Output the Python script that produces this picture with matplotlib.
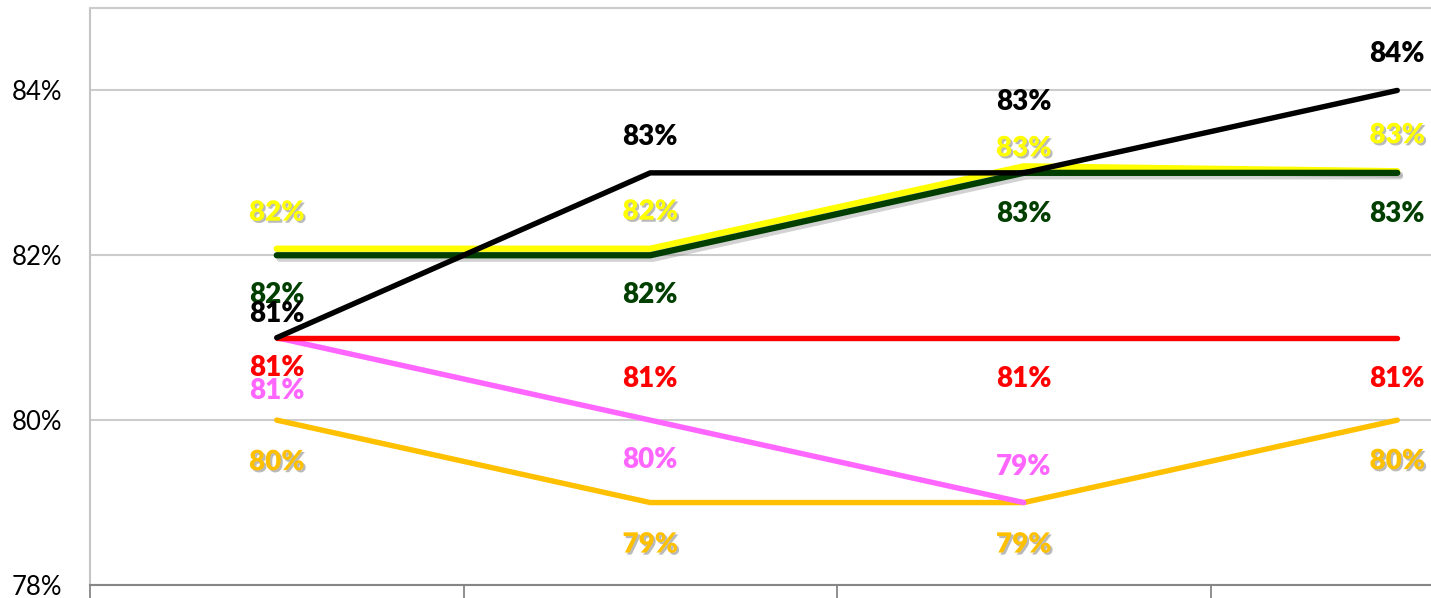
import numpy as np
import matplotlib
matplotlib.use("Agg")
import matplotlib.pyplot as plt
import matplotlib.patheffects as pe
from matplotlib.ticker import FuncFormatter, MultipleLocator

# data
categories = ["1", "2", "3", "4"]
orange = [80, 79, 79, 80]
pink = [81, 80, 79, np.nan]
red = [81, 81, 81, 81]
yellow = [82.08, 82.08, 83.08, 83.02]
green = [82, 82, 83, 83]
black = [81, 83, 83, 84]

# label offsets in pixels (up is positive)
orange_off = [-42, -42, -42, -41]
pink_off = [-53, -40, 36, 0]
red_off = [-30, -41, -41, -41]
yellow_off = [36, 37, 18, 36]
green_off = [-40, -40, -41, -41]
black_off = [24, 36, 71, 36]

plt.rcParams['font.family'] = ['Lato', 'DejaVu Sans']

fig = plt.figure(figsize=(14.31, 5.98), dpi=100)
W, H = 1431, 598
ax = fig.add_axes([90 / W, (598 - 585) / H, (1584 - 90) / W, (585 - 8) / H])

x = np.arange(len(categories))
shadow_line = [pe.SimpleLineShadow(offset=(2, -2.5), shadow_color='gray', alpha=0.35), pe.Normal()]
shadow_text = [pe.SimplePatchShadow(offset=(1.5, -1.5), shadow_rgbFace='#777777', alpha=0.5), pe.Normal()]

series = [
    (orange, "#FFC000", 3.9, orange_off, False, True),
    (pink, "#FF66FF", 3.9, pink_off, False, False),
    (red, "#FF0000", 3.9, red_off, False, False),
    (yellow, "#FFFF00", 4.5, yellow_off, True, True),
    (green, "#003F00", 4.5, green_off, True, False),
    (black, "#000000", 3.9, black_off, False, False),
]

for z, (vals, col, lw, offs, lshadow, tshadow) in enumerate(series):
    ax.plot(x, vals, color=col, lw=lw, solid_capstyle='round', solid_joinstyle='round',
            zorder=3 + z, path_effects=shadow_line if lshadow else None)
    for xi, v, o in zip(x, vals, offs):
        if np.isnan(v):
            continue
        ax.annotate(f"{v:.0f}%", (xi, v), xytext=(0, o * 0.72), textcoords='offset points',
                    ha='center', va='center', fontsize=20, fontweight='heavy', color=col,
                    zorder=10, path_effects=shadow_text if tshadow else None)

ax.set_xlim(-0.5, 3.5)
ax.set_ylim(78, 85)
ax.yaxis.set_major_locator(MultipleLocator(2))
ax.yaxis.set_major_formatter(FuncFormatter(lambda v, p: f"{v:.0f}%"))
ax.set_xticks([-0.5, 0.5, 1.5, 2.5, 3.5])
ax.set_xticklabels([])
ax.tick_params(axis='x', length=13, width=1.3, color='#868686')
ax.tick_params(axis='y', length=0, labelsize=18.5, pad=20)
ax.grid(axis='y', color='#cccccc', lw=1.5, zorder=0)

ax.spines['right'].set_visible(False)
ax.spines['left'].set_color('#c4c4c4')
ax.spines['left'].set_linewidth(1.5)
ax.spines['top'].set_color('#cccccc')
ax.spines['top'].set_linewidth(1.5)
ax.spines['bottom'].set_color('#868686')
ax.spines['bottom'].set_linewidth(1.5)

fig.savefig("out.png", dpi=100)
